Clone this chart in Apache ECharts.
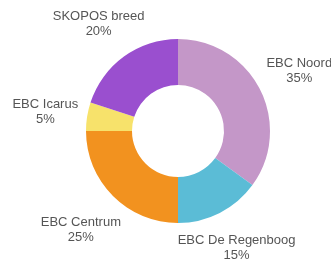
<!DOCTYPE html>
<html><head><meta charset="utf-8">
<script src="https://cdn.jsdelivr.net/npm/echarts@6/dist/echarts.min.js"></script>
<style>html,body{margin:0;padding:0;background:#fff}#c{width:331px;height:260px}</style>
</head><body><div id="c"></div>
<script>
const categories = ["EBC Noord", "EBC De Regenboog", "EBC Centrum", "EBC Icarus", "SKOPOS breed"];
const values = [35, 15, 25, 5, 20];
const colors = ["#c497c8", "#5bbcd6", "#f2921f", "#f7e26b", "#9a4fcf"];

const CX = 178, CY = 131, R0 = 46, R = 92, GAP = 8, LEN = 40, TEXT_SHIFT_Y = 2;

const chart = echarts.init(document.getElementById('c'), null, {renderer: 'canvas'});
chart.setOption({
  animation: false,
  series: [{
    type: 'pie',
    center: [CX, CY],
    radius: [R0, R],
    startAngle: 90,
    clockwise: true,
    avoidLabelOverlap: false,
    data: categories.map((n, i) => ({name: n, value: values[i], itemStyle: {color: colors[i]}})),
    label: {
      show: true,
      position: 'outside',
      formatter: '{b}\n{d}%',
      color: '#555',
      fontFamily: 'Liberation Sans, Arial, sans-serif',
      fontSize: 13,
      lineHeight: 15,
      align: 'center'
    },
    labelLine: {show: false, length: LEN, length2: 0},
    labelLayout: function (p) {
      const pts = p.labelLinePoints;
      if (!(pts && pts[1])) return {};
      const ux = (pts[1][0] - pts[0][0]) / LEN, uy = (pts[1][1] - pts[0][1]) / LEN;
      const hw = p.labelRect.width / 2, hh = p.labelRect.height / 2;
      const target = R + GAP;
      const f = t => {
        const bx = t * ux, by = t * uy;
        const qx = Math.max(bx - hw, Math.min(0, bx + hw));
        const qy = Math.max(by - hh, Math.min(0, by + hh));
        return Math.hypot(qx, qy);
      };
      let lo = 0, hi = 400;
      for (let k = 0; k < 60; k++) { const m = (lo + hi) / 2; if (f(m) < target) lo = m; else hi = m; }
      return {x: CX + lo * ux, y: CY + lo * uy + TEXT_SHIFT_Y, align: 'center', verticalAlign: 'middle'};
    }
  }]
});
</script></body></html>
